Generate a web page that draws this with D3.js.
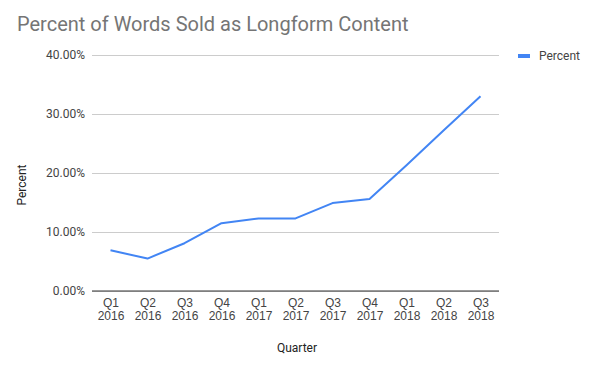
<!DOCTYPE html>
<html><head><meta charset="utf-8">
<script src="https://cdn.jsdelivr.net/npm/d3@7"></script>
<style>body{margin:0;background:#fff}svg{display:block;font-family:Roboto,Arial,sans-serif}</style>
</head><body><svg id="c" width="597" height="369"></svg>
<script>
const quarters = ["Q1","Q2","Q3","Q4","Q1","Q2","Q3","Q4","Q1","Q2","Q3"];
const years = ["2016","2016","2016","2016","2017","2017","2017","2017","2018","2018","2018"];
const percent = [6.9, 5.5, 8.1, 11.5, 12.3, 12.3, 14.9, 15.6, 21.3, 27.2, 33.0];
const yTicks = [0, 10, 20, 30, 40];
const title = "Percent of Words Sold as Longform Content";

const svg = d3.select("#c");
const L = 92, R = 499, T = 55, B = 291;
const cats = quarters.map((q,i)=>q+" "+years[i]);
const x = d3.scalePoint().domain(cats).range([L,R]).padding(0.5);
const y = d3.scaleLinear().domain([0,40]).range([B,T]);

svg.append("text").attr("x",17).attr("y",31).attr("font-size",20).attr("fill","#757575").text(title);

const ya = svg.append("g").attr("transform",`translate(${L},0)`)
  .call(d3.axisLeft(y).tickValues(yTicks).tickSize(-(R-L)).tickPadding(7).tickFormat(d=>d.toFixed(2)+"%"));
ya.select(".domain").remove();
ya.selectAll("line").attr("stroke","#cccccc");
ya.selectAll("text").attr("font-size",12).attr("fill","#444").attr("font-family","Roboto,Arial,sans-serif");

svg.append("line").attr("x1",L).attr("x2",R).attr("y1",y(0)).attr("y2",y(0)).attr("stroke","#333").attr("stroke-width",1);

const xa = svg.append("g").attr("transform",`translate(0,${B})`)
  .call(d3.axisBottom(x).tickSize(0).tickFormat(""));
xa.select(".domain").remove();
xa.selectAll(".tick").each(function(d,i){
  const t = d3.select(this).append("text").attr("fill","#444").attr("font-size",12).attr("text-anchor","middle");
  t.append("tspan").attr("x",0).attr("y",16).text(quarters[i]);
  t.append("tspan").attr("x",0).attr("y",29).text(years[i]);
});

svg.append("path").datum(percent)
  .attr("fill","none").attr("stroke","#4285F4").attr("stroke-width",2).attr("stroke-linejoin","round")
  .attr("d", d3.line().x((d,i)=>x(cats[i])).y(d=>y(d)));

svg.append("text").attr("transform","translate(26,185) rotate(-90)").attr("text-anchor","middle")
  .attr("font-size",12).attr("fill","#222").text("Percent");
svg.append("text").attr("x",297).attr("y",352).attr("text-anchor","middle")
  .attr("font-size",12).attr("fill","#222").text("Quarter");

svg.append("rect").attr("x",518).attr("y",54).attr("width",12).attr("height",4).attr("fill","#4285F4");
svg.append("text").attr("x",539).attr("y",60).attr("font-size",12).attr("fill","#444").text("Percent");
</script></body></html>
